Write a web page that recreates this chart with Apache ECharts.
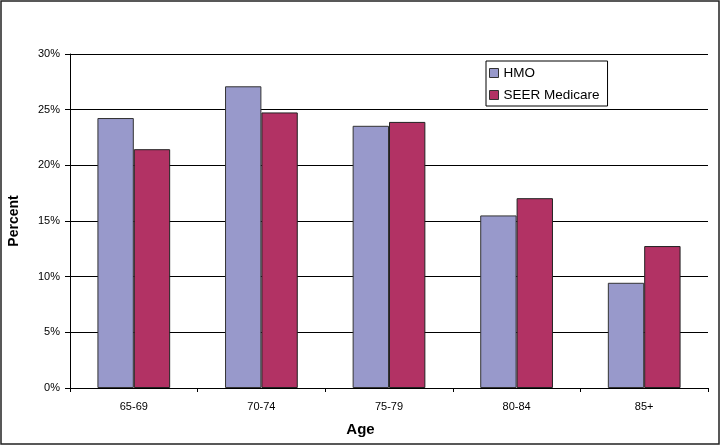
<!DOCTYPE html>
<html>
<head>
<meta charset="utf-8">
<script src="https://cdn.jsdelivr.net/npm/echarts@6/dist/echarts.min.js"></script>
<style>
  body { margin: 0; background: #fff; }
  #chart { width: 721px; height: 446px; }
</style>
</head>
<body>
<div id="chart"></div>
<script>
// age groups and percentages
var ageGroups = ["65-69", "70-74", "75-79", "80-84", "85+"];
var hmo = [24.25, 27.1, 23.55, 15.5, 9.45];
var seerMedicare = [21.45, 24.75, 23.9, 17.05, 12.75];

var myChart = echarts.init(document.getElementById("chart"));

var font = "Liberation Sans, Arial, sans-serif";

var option = {
  backgroundColor: "#fff",
  textStyle: { fontFamily: font, color: "#000" },
  animation: false,
  title: {
    text: "Age",
    left: "center",
    top: 417,
    textStyle: { fontFamily: font, fontSize: 15, fontWeight: "bold", color: "#000" }
  },
  legend: {
    orient: "vertical",
    left: 486,
    top: 61,
    data: ["HMO", "SEER Medicare"],
    icon: "rect",
    itemWidth: 9,
    itemHeight: 9,
    itemGap: 8,
    padding: [5, 8, 4, 3],
    borderColor: "#000",
    borderWidth: 1,
    borderRadius: 0,
    itemStyle: { borderColor: "#333", borderWidth: 1 },
    textStyle: { fontFamily: font, fontSize: 13.5, color: "#000" }
  },
  grid: {
    left: 70,
    right: 13,
    top: 54,
    bottom: 58,
    outerBoundsMode: "none"
  },
  xAxis: {
    type: "category",
    data: ageGroups,
    axisLine: { lineStyle: { color: "#000", width: 1 } },
    axisTick: { show: true, length: 4, lineStyle: { color: "#000" } },
    axisLabel: { fontSize: 11, color: "#000", margin: 13 }
  },
  yAxis: {
    type: "value",
    min: 0,
    max: 30,
    interval: 5,
    name: "Percent",
    nameLocation: "middle",
    nameRotate: 90,
    nameGap: 49,
    nameTextStyle: { fontSize: 14, fontWeight: "bold", color: "#000" },
    axisLine: { show: true, lineStyle: { color: "#000", width: 1 } },
    axisTick: { show: true, length: 5, lineStyle: { color: "#000" } },
    axisLabel: { formatter: "{value}%", fontSize: 11, color: "#000", margin: 10 },
    splitLine: { lineStyle: { color: "#000", width: 1 } }
  },
  graphic: [
    {
      type: "rect",
      shape: { x: 1, y: 1, width: 718, height: 443 },
      style: { fill: null, stroke: "#222", lineWidth: 1.5 },
      silent: true
    }
  ],
  series: [
    {
      name: "HMO",
      type: "bar",
      data: hmo,
      barGap: "0%",
      barCategoryGap: "43%",
      itemStyle: { color: "#9899CB", borderColor: "#333", borderWidth: 1 }
    },
    {
      name: "SEER Medicare",
      type: "bar",
      data: seerMedicare,
      barGap: "0%",
      barCategoryGap: "43%",
      itemStyle: { color: "#B23264", borderColor: "#222", borderWidth: 1 }
    }
  ]
};

myChart.setOption(option);
</script>
</body>
</html>
